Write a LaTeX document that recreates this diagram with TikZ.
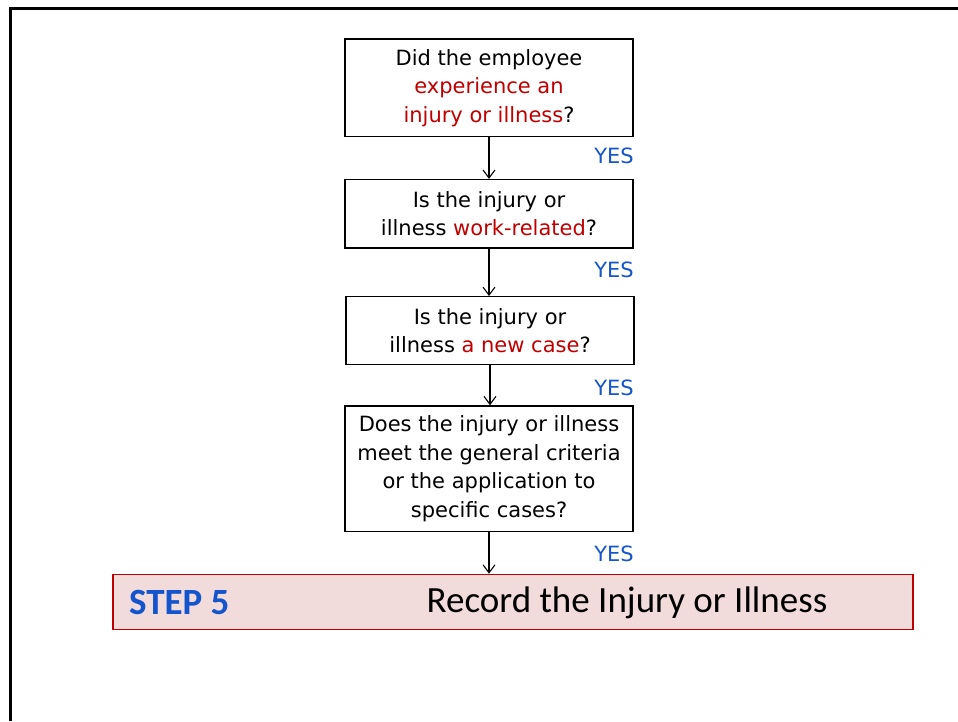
\documentclass[tikz,border=0pt]{standalone}
\usepackage{fontspec}
\setmainfont{DejaVu Sans}
\newfontfamily\calib{Carlito}
\usetikzlibrary{arrows.meta}
\definecolor{qred}{RGB}{192,0,0}
\definecolor{qblue}{RGB}{20,85,205}
\definecolor{stepfill}{RGB}{242,220,219}
\begin{document}
\begin{tikzpicture}[x=1pt,y=-1pt,
  qbox/.style={draw=black,line width=1.3pt,minimum width=288pt,inner sep=0pt,
    align=center,font=\fontsize{21}{28.5}\selectfont},
  flow/.style={line width=1.1pt,-{Straight Barb[length=8pt,width=12pt,line width=1.1pt]}},
  yes/.style={text=qblue,font=\fontsize{21}{25}\selectfont,inner sep=0pt,anchor=base east},
  stepbox/.style={draw=qred,fill=stepfill,line width=1.6pt,minimum width=800pt,minimum height=55pt,inner sep=0pt}]
\useasboundingbox (0,0) rectangle (958,721);
% page frame
\draw[line width=3pt] (10.5,721) -- (10.5,8.5) -- (958,8.5);

% question boxes
\node[qbox,minimum height=97.5pt] (b1) at (489,87.8)
  {Did the employee\\\textcolor{qred}{experience an}\\\textcolor{qred}{injury or illness}?};
\node[qbox,minimum height=68.5pt] (b2) at (489,213.8)
  {Is the injury or\\illness \textcolor{qred}{work-related}?};
\node[qbox,minimum height=67.6pt] (b3) at (490,330.5)
  {Is the injury or\\illness \textcolor{qred}{a new case}?};
\node[qbox,minimum height=125.7pt] (b4) at (489,468.8)
  {Does the injury or illness\\meet the general criteria\\or the application to\\specific cases?};

% result bar
\node[stepbox] (s5) at (512.7,602) {};
\node[anchor=base west,inner sep=0pt,text=qblue,font=\calib\bfseries\fontsize{37}{42}\selectfont] (s5lbl) at (129,614) {STEP 5};
\node[anchor=base,inner sep=0pt,font=\calib\fontsize{37}{42}\selectfont] (s5txt) at (627,612) {Record the Injury or Illness};

% connectors
\draw[flow] (b1.south) -- (b2.north);
\draw[flow] (b2.south) -- (b2.south |- b3.north);
\draw[flow] (b3.south) -- (b3.south |- b4.north);
\draw[flow] (b4.south) -- (b4.south |- s5.north);

% answers
\node[yes] (y1) at (634,163) {YES};
\node[yes] (y2) at (634,277) {YES};
\node[yes] (y3) at (634,395) {YES};
\node[yes] (y4) at (634,561.7) {YES};
\end{tikzpicture}
\end{document}
